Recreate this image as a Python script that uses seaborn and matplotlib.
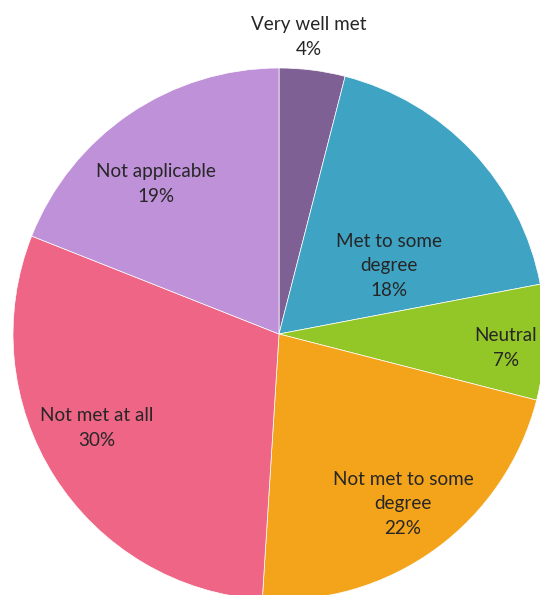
import matplotlib
matplotlib.use("Agg")
import matplotlib.pyplot as plt
import seaborn as sns

sns.set_theme(style="white")
plt.rcParams["font.family"] = ["Lato", "DejaVu Sans"]

categories = ["Very well met", "Met to some\ndegree", "Neutral",
              "Not met to some\ndegree", "Not met at all", "Not applicable"]
shares = [4, 18, 7, 22, 30, 19]
colors = ["#7f6094", "#3fa3c4", "#93c627", "#f4a41a", "#ef6585", "#bf91d9"]

# label anchor offsets from the pie centre, in units of the radius
label_dx = [0.113, 0.414, 0.853, 0.466, -0.684, -0.462]
label_dy = [1.117, 0.256, -0.053, -0.639, -0.353, 0.563]

W, H = 540, 595
cx, cy, R = 279, 334, 266

fig = plt.figure(figsize=(W / 100, H / 100), dpi=100)
ax = fig.add_axes([0, 0, 1, 1])

ax.pie(shares, colors=colors, startangle=90, counterclock=False,
       radius=1, center=(0, 0),
       wedgeprops=dict(edgecolor="white", linewidth=0.5))

for name, val, dx, dy in zip(categories, shares, label_dx, label_dy):
    ax.text(dx, dy, f"{name}\n{val}%", ha="center", va="center",
            fontsize=13.6, color="#262626", linespacing=1.55)

ax.set_xlim(-cx / R, (W - cx) / R)
ax.set_ylim(-(H - cy) / R, cy / R)
ax.set_aspect("equal")
ax.axis("off")

fig.savefig("out.png", dpi=100, facecolor="white")
